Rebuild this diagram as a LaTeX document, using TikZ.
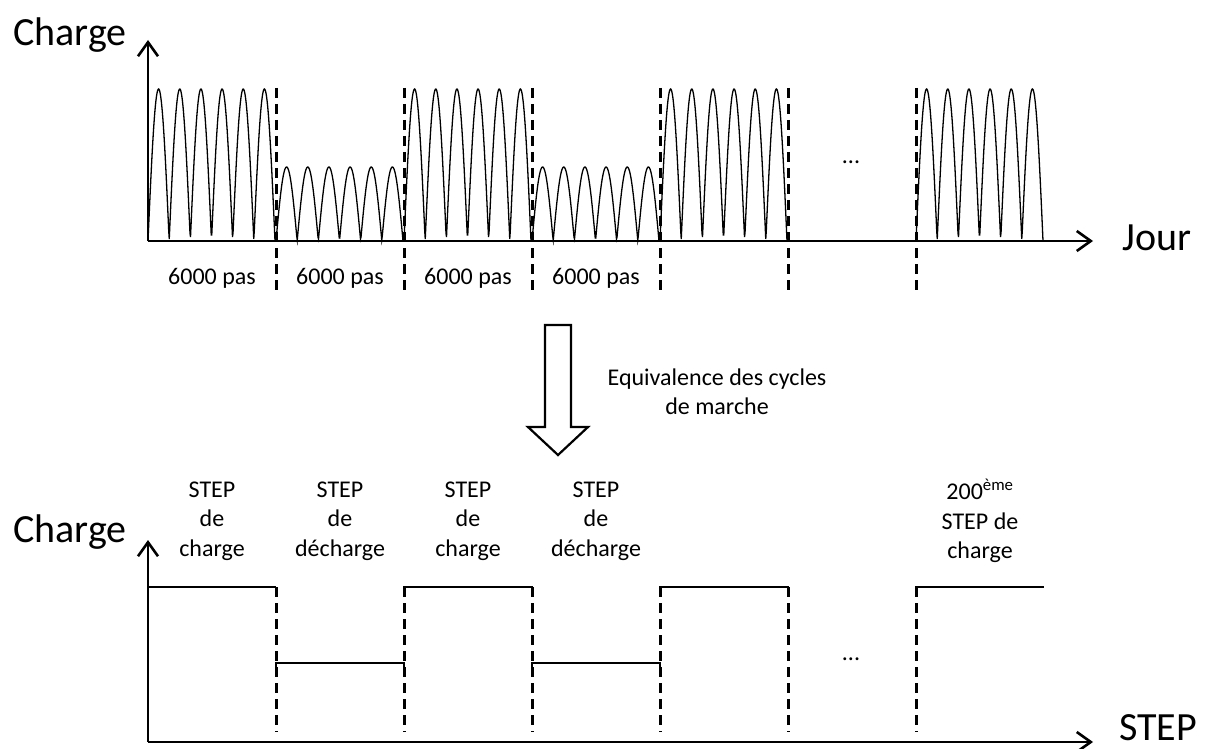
\documentclass[tikz,border=0pt]{standalone}
\usepackage{fontspec}
\setmainfont{Carlito}
\usetikzlibrary{arrows.meta}
\begin{document}
\begin{tikzpicture}[x=1pt,y=-1pt,
  axis/.style={line width=2.6pt,-{Straight Barb[length=14pt,width=20pt,line width=2.6pt]}},
  sep/.style={line width=3pt,dash pattern=on 10pt off 6pt},
  wave/.style={line width=1.3pt},
  level/.style={line width=2.5pt},
  big/.style={font=\fontsize{40}{44}\selectfont,inner sep=0pt},
  small/.style={font=\fontsize{24}{29.5}\selectfont,align=center,inner sep=0pt}]
\useasboundingbox (0,0) rectangle (1205,749);
% ---------- top chart ----------
\coordinate (O1) at (148,241);
\coordinate (Y1) at (148,40);
\coordinate (X1) at (1093,241);
\draw[axis] (O1) -- (Y1);
\draw[axis] (O1) -- (X1);
\node[big] (charge1) at (70,35) {Charge};
\node[big] (jour) at (1157,238) {Jour};
% waves
\foreach \x/\a in {148/152,276/74,404/152,532/74,660/152,916/152}{
  \draw[wave] plot[variable=\t,domain=0:127, samples=240] ({\x+\t},{241-\a*abs(sin(8.50394*\t))});
}
\foreach \x in {276,404,532,660,788,916}{
  \draw[sep] (\x,88) -- (\x,292);
}
\node[small] (p1) at (212,278) {6000 pas};
\node[small] (p2) at (340,278) {6000 pas};
\node[small] (p3) at (468,278) {6000 pas};
\node[small] (p4) at (596,278) {6000 pas};
\node[small] (dots1) at (851,162) {...};
% ---------- block arrow ----------
\draw[line width=2.2pt,line join=miter] (545,325) -- (571,325) -- (571,427) -- (588,427) -- (558,455) -- (528,427) -- (545,427) -- cycle;
\node[small] (equiv) at (717,392) {Equivalence des cycles\\de marche};
% ---------- bottom chart ----------
\coordinate (O2) at (148,742);
\coordinate (Y2) at (148,540);
\coordinate (X2) at (1093,742);
\draw[axis] (O2) -- (Y2);
\draw[axis] (O2) -- (X2);
\node[big] (charge2) at (70,532) {Charge};
\node[big] (step) at (1158,728) {STEP};
\draw[level] (148,587) -- (276,587);
\draw[level] (276,672) -- (276,663) -- (404,663) -- (404,672);
\draw[level] (404,596) -- (404,587) -- (532,587) -- (532,596);
\draw[level] (532,672) -- (532,663) -- (660,663) -- (660,672);
\draw[level] (660,596) -- (660,587) -- (788,587) -- (788,596);
\draw[level] (916,596) -- (916,587) -- (1044,587);
\foreach \x in {276,404,532,660,788,916}{
  \draw[sep] (\x,587) -- (\x,732);
}
\node[small] (dots2) at (851,659) {...};
\node[small] (s1) at (212,521) {STEP\\de\\charge};
\node[small] (s2) at (340,521) {STEP\\de\\décharge};
\node[small] (s3) at (468,521) {STEP\\de\\charge};
\node[small] (s4) at (596,521) {STEP\\de\\décharge};
\node[small] (s5) at (980,521) {200\textsuperscript{ème}\\STEP de\\charge};
\end{tikzpicture}
\end{document}
